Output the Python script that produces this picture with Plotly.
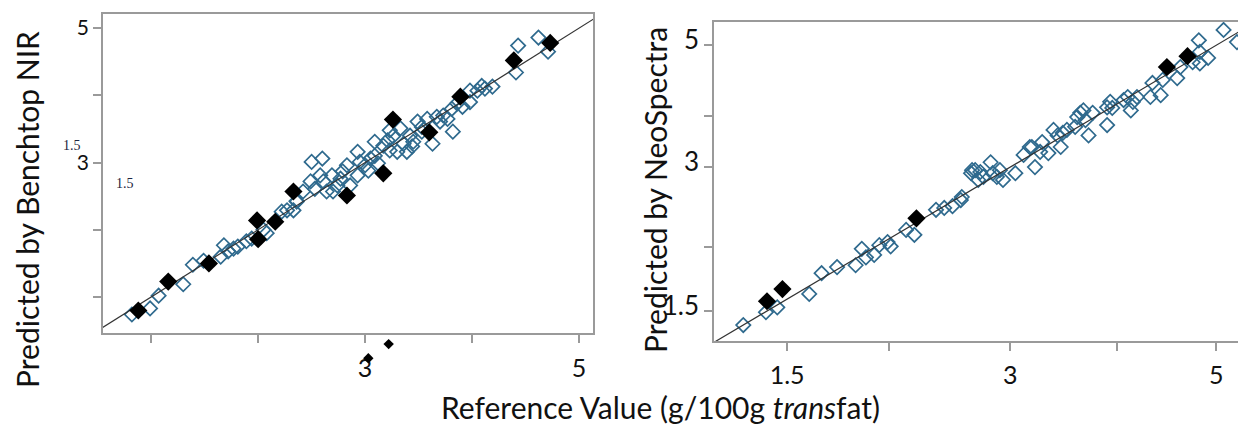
import plotly.graph_objects as go

# ---------------- Left panel: Benchtop NIR ----------------
bench_open_x = [0.82, 0.99, 1.07, 1.30, 1.39, 1.49, 1.65, 1.68, 1.72, 1.77, 1.81, 1.89, 1.94, 2.05, 2.08,
                2.22, 2.27, 2.33, 2.36, 2.36, 2.49, 2.50, 2.60, 2.53, 2.61, 2.69, 2.70, 2.77, 2.83, 2.86,
                2.93, 2.93, 3.00, 3.05, 3.09, 3.12, 3.17, 3.23, 3.23, 3.30, 3.33, 3.36, 3.42, 3.45, 3.49,
                3.53, 3.58, 3.63, 3.67, 3.73, 3.77, 3.82, 3.81, 3.86, 3.91, 3.98, 3.98, 4.05, 4.09, 4.12,
                4.19, 4.41, 4.43, 4.62, 4.71, 2.42, 2.58, 2.64, 2.74, 2.79, 2.95, 3.03, 3.09, 3.21, 3.26,
                3.39, 3.44, 3.53, 3.70]
bench_open_y = [0.74, 0.83, 1.02, 1.19, 1.48, 1.54, 1.60, 1.77, 1.68, 1.72, 1.75, 1.83, 1.87, 2.00, 1.95,
                2.27, 2.29, 2.29, 2.42, 2.43, 2.72, 3.01, 3.06, 2.61, 2.72, 2.81, 2.57, 2.76, 2.96, 2.66,
                2.81, 3.16, 2.96, 3.06, 3.31, 2.99, 3.25, 3.48, 3.18, 3.16, 3.51, 3.28, 3.40, 3.31, 3.61,
                3.53, 3.65, 3.28, 3.68, 3.70, 3.65, 3.46, 3.80, 3.88, 3.83, 3.90, 4.07, 4.07, 4.14, 4.10,
                4.13, 4.34, 4.74, 4.86, 4.65, 2.57, 2.81, 2.57, 2.66, 2.87, 3.01, 2.88, 3.10, 3.33, 3.39,
                3.16, 3.24, 3.46, 3.61]
bench_fill_x = [0.88, 1.16, 1.54, 1.99, 2.00, 2.16, 2.33, 2.83, 3.17, 3.26, 3.60, 3.89, 4.39, 4.73]
bench_fill_y = [0.80, 1.23, 1.50, 2.14, 1.86, 2.12, 2.57, 2.51, 2.84, 3.64, 3.45, 3.98, 4.52, 4.78]
# stray marks below the left x axis (same scale as the left panel)
stray_x = [3.22, 3.03]
stray_y = [0.30, 0.09]

# ---------------- Right panel: NeoSpectra ----------------
neo_open_x = [0.41, 0.63, 0.74, 1.05, 1.17, 1.32, 1.50, 1.56, 1.60, 1.68, 1.73, 1.81, 1.84, 1.99, 2.07,
              2.28, 2.36, 2.44, 2.52, 2.62, 2.63, 2.53, 2.66, 2.69, 2.74, 2.81, 2.83, 2.90, 2.93, 3.05,
              3.13, 3.21, 3.24, 3.31, 3.37, 3.46, 3.49, 3.55, 3.63, 3.68, 3.73, 3.76, 3.80, 3.94, 3.94,
              3.99, 4.10, 4.17, 4.23, 4.36, 4.38, 4.46, 4.48, 4.62, 4.77, 4.83, 4.84, 4.92, 5.07, 5.20,
              2.71, 2.87, 3.19, 3.29, 3.42, 3.51, 3.65, 3.71, 3.97, 4.14, 4.19, 4.65, 4.84]
neo_open_y = [0.41, 0.62, 0.70, 0.92, 1.26, 1.36, 1.39, 1.66, 1.52, 1.56, 1.72, 1.77, 1.70, 1.97, 1.89,
              2.30, 2.33, 2.36, 2.46, 2.90, 2.95, 2.51, 2.95, 2.79, 2.84, 3.08, 2.90, 2.95, 2.79, 2.90,
              3.20, 3.33, 3.00, 3.41, 3.23, 3.52, 3.33, 3.61, 3.66, 3.89, 3.77, 3.52, 3.89, 3.98, 3.69,
              3.97, 4.10, 3.93, 4.15, 4.15, 4.38, 4.18, 4.43, 4.46, 4.72, 5.08, 4.89, 4.79, 5.25, 5.05,
              2.92, 2.84, 3.33, 3.25, 3.61, 3.56, 3.82, 3.93, 4.07, 4.15, 4.07, 4.64, 4.70]
neo_fill_x = [0.64, 0.79, 2.09, 4.52, 4.72]
neo_fill_y = [0.80, 1.00, 2.16, 4.64, 4.82]

# axis ticks
left_ticks = [1, 2, 3, 4, 5]
left_ticktext = ["", "", "3", "", "5"]
right_xticks = [0.835, 1.825, 3, 4.04, 5]
right_xticktext = ["1.5", "", "3", "", "5"]
right_yticks = [0.64, 1.69, 3, 3.84, 5]
right_yticktext = ["1.5", "", "3", "", "5"]
ident = [0, 6]

BLUE = "#2f6a8e"
FONT = "Lato"
AX = "#9a9a9a"
TXT = "#111111"

fig = go.Figure()

def add_panel(xa, ya, ox, oy, fx, fy):
    fig.add_trace(go.Scatter(x=ox, y=oy, mode="markers", xaxis=xa, yaxis=ya,
                             marker=dict(symbol="diamond-open", size=11, color=BLUE,
                                         line=dict(width=1.7, color=BLUE)),
                             showlegend=False))
    fig.add_trace(go.Scatter(x=ident, y=ident, mode="lines", xaxis=xa, yaxis=ya,
                             line=dict(color="#333333", width=1.2), showlegend=False))
    fig.add_trace(go.Scatter(x=fx, y=fy, mode="markers", xaxis=xa, yaxis=ya,
                             marker=dict(symbol="diamond", size=14, color="black"),
                             showlegend=False))

add_panel("x", "y", bench_open_x, bench_open_y, bench_fill_x, bench_fill_y)
add_panel("x2", "y2", neo_open_x, neo_open_y, neo_fill_x, neo_fill_y)
fig.add_trace(go.Scatter(x=stray_x, y=stray_y, mode="markers", xaxis="x3", yaxis="y3",
                         marker=dict(symbol="diamond", size=8, color="black"),
                         showlegend=False))

W, H = 1238, 426


def axstyle(size):
    return dict(showgrid=False, zeroline=False, showline=True, linecolor=AX, linewidth=1.5,
                ticks="outside", ticklen=8, tickwidth=1.5, tickcolor=AX,
                tickfont=dict(family=FONT, size=size, color=TXT))

# left panel y scale: 319 px for 4.745 units
ypx = 319 / (5.21 - 0.465)
y3_low = 0.465 - 40 / ypx

fig.update_layout(
    width=W, height=H, margin=dict(l=0, r=0, t=0, b=0),
    paper_bgcolor="white", plot_bgcolor="rgba(0,0,0,0)",
    xaxis=dict(domain=[103 / W, 593 / W], range=[0.55, 5.13], tickvals=left_ticks,
               ticktext=left_ticktext, mirror=True, anchor="y", ticklabelstandoff=4, **axstyle(25)),
    yaxis=dict(domain=[1 - 333 / H, 1 - 14 / H], range=[0.465, 5.21], tickvals=left_ticks,
               ticktext=left_ticktext, mirror=True, anchor="x", **axstyle(21)),
    xaxis2=dict(domain=[714 / W, 1.0], range=[0.126, 5.21], tickvals=right_xticks,
                ticktext=right_xticktext, mirror=True, anchor="y2", ticklabelstandoff=3, **axstyle(25)),
    yaxis2=dict(domain=[1 - 341 / H, 1 - 22 / H], range=[0.148, 5.38], tickvals=right_yticks,
                ticktext=right_yticktext, mirror=False, anchor="x2", ticklabelshift=-5, **axstyle(26)),
    xaxis3=dict(domain=[103 / W, 593 / W], range=[0.55, 5.13], visible=False, anchor="y3"),
    yaxis3=dict(domain=[1 - 373 / H, 1 - 14 / H], range=[y3_low, 5.21], visible=False, anchor="x3"),
)

ann = [
    dict(text="Predicted by Benchtop NIR", x=27 / W, y=1 - 210 / H, textangle=-90,
         font=dict(family=FONT, size=30, color=TXT)),
    dict(text="Predicted by NeoSpectra", x=655 / W, y=1 - 190 / H, textangle=-90,
         font=dict(family=FONT, size=30, color=TXT)),
    dict(text="Reference Value (g/100g <i>trans</i>fat)", x=660 / W, y=1 - 407 / H,
         font=dict(family=FONT, size=30, color=TXT)),
    dict(text="1.5", x=72 / W, y=1 - 145 / H,
         font=dict(family="Liberation Serif", size=14, color="#1c2540")),
    dict(text="1.5", x=125 / W, y=1 - 183 / H,
         font=dict(family="Liberation Serif", size=14, color="#1c2540")),
]
for a in ann:
    fig.add_annotation(xref="paper", yref="paper", showarrow=False, xanchor="center",
                       yanchor="middle", **a)

fig.write_html("out.html")
